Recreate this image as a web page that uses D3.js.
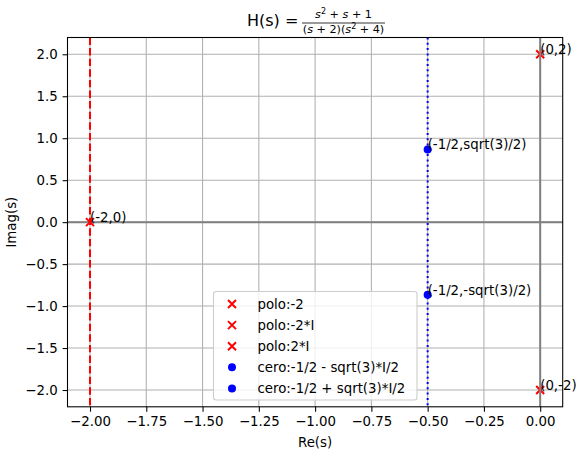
<!DOCTYPE html>
<html><head><meta charset="utf-8">
<script src="https://cdn.jsdelivr.net/npm/d3@7"></script>
<style>body{margin:0;background:#fff}svg{display:block}text{font-family:"DejaVu Sans",sans-serif;fill:#000}</style>
</head><body>
<script>
const poleRe = [-2, 0, 0];
const poleIm = [0, -2, 2];
const poleLegend = ["polo:-2", "polo:-2*I", "polo:2*I"];
const poleNotes = ["(-2,0)", "(0,-2)", "(0,2)"];
const zeroRe = [-0.5, -0.5];
const zeroIm = [-0.8660254, 0.8660254];
const zeroLegend = ["cero:-1/2 - sqrt(3)*I/2", "cero:-1/2 + sqrt(3)*I/2"];
const zeroNotes = ["(-1/2,-sqrt(3)/2)", "(-1/2,sqrt(3)/2)"];
const xTicks = [-2.0, -1.75, -1.5, -1.25, -1.0, -0.75, -0.5, -0.25, 0.0];
const yTicks = [-2.0, -1.5, -1.0, -0.5, 0.0, 0.5, 1.0, 1.5, 2.0];
const xDomain = [-2.1, 0.1];
const yDomain = [-2.2, 2.2];

const W = 581, H = 454;
const L = 67.5, R = 562.7, T = 37.5, B = 406.8;
const svg = d3.select("body").append("svg").attr("width", W).attr("height", H);
const x = d3.scaleLinear().domain(xDomain).range([L, R]);
const y = d3.scaleLinear().domain(yDomain).range([B, T]);
const fmt = s => s.replace("-", "\u2212");

// grid
const g = svg.append("g");
g.selectAll(".gx").data(xTicks).join("line").attr("x1", d => x(d)).attr("x2", d => x(d)).attr("y1", T).attr("y2", B).attr("stroke", "#b0b0b0").attr("stroke-width", 1.07);
g.selectAll(".gy").data(yTicks).join("line").attr("y1", d => y(d)).attr("y2", d => y(d)).attr("x1", L).attr("x2", R).attr("stroke", "#b0b0b0").attr("stroke-width", 1.07);

// horizontal axis line at 0
svg.append("line").attr("x1", L).attr("x2", R).attr("y1", y(0)).attr("y2", y(0)).attr("stroke", "#808080").attr("stroke-width", 2);

// markers
const mk = svg.append("g");
poleRe.forEach((re, i) => {
  const cx = x(re), cy = y(poleIm[i]);
  mk.append("path").attr("d", `M${cx-4},${cy-4}L${cx+4},${cy+4}M${cx-4},${cy+4}L${cx+4},${cy-4}`).attr("stroke", "red").attr("stroke-width", 2);
});
zeroRe.forEach((re, i) => {
  mk.append("circle").attr("cx", x(re)).attr("cy", y(zeroIm[i])).attr("r", 4).attr("fill", "blue");
});

// vertical lines
svg.append("line").attr("x1", x(-2)).attr("x2", x(-2)).attr("y1", T).attr("y2", B).attr("stroke", "red").attr("stroke-width", 2).attr("stroke-dasharray", "7.4,3.2");
svg.append("line").attr("x1", x(-0.5)).attr("x2", x(-0.5)).attr("y1", T).attr("y2", B).attr("stroke", "blue").attr("stroke-width", 2).attr("stroke-dasharray", "2,3.3");
svg.append("line").attr("x1", x(0)).attr("x2", x(0)).attr("y1", T).attr("y2", B).attr("stroke", "#808080").attr("stroke-width", 2);

// annotations
const an = svg.append("g").attr("font-size", "13.33px");
poleRe.forEach((re, i) => an.append("text").attr("x", x(re)).attr("y", y(poleIm[i])).text(poleNotes[i]));
zeroRe.forEach((re, i) => an.append("text").attr("x", x(re)).attr("y", y(zeroIm[i])).text(zeroNotes[i]));

// frame
svg.append("rect").attr("x", L).attr("y", T).attr("width", R - L).attr("height", B - T).attr("fill", "none").attr("stroke", "#000").attr("stroke-width", 1.07);

// axes
const xa = svg.append("g").attr("transform", `translate(0,${B})`)
  .call(d3.axisBottom(x).tickValues(xTicks).tickSize(4.9).tickPadding(4.9).tickFormat(d => fmt(d3.format(".2f")(d))));
const ya = svg.append("g").attr("transform", `translate(${L},0)`)
  .call(d3.axisLeft(y).tickValues(yTicks).tickSize(4.9).tickPadding(4.9).tickFormat(d => fmt(d3.format(".1f")(d))));
[xa, ya].forEach(a => {
  a.select(".domain").remove();
  a.selectAll("text").attr("font-size", "13.33px").attr("font-family", "DejaVu Sans").attr("fill", "#000");
  a.selectAll("line").attr("stroke", "#000").attr("stroke-width", 1.07);
});

// axis labels
svg.append("text").attr("x", (L + R) / 2).attr("y", 447).attr("text-anchor", "middle").attr("font-size", "13.33px").text("Re(s)");
svg.append("text").attr("transform", `translate(16,${(T + B) / 2}) rotate(-90)`).attr("text-anchor", "middle").attr("font-size", "13.33px").text("Imag(s)");

// title
const tt = svg.append("g");
tt.append("text").attr("x", 247).attr("y", 26).attr("font-size", "16px").text("H(s) = ");
const num = tt.append("text").attr("x", 343.5).attr("y", 17.5).attr("text-anchor", "middle").attr("font-size", "11.2px");
num.append("tspan").attr("font-style", "italic").text("s");
num.append("tspan").attr("font-size", "8px").attr("dy", -4).text("2");
num.append("tspan").attr("dy", 4).text(" + ");
num.append("tspan").attr("font-style", "italic").text("s");
num.append("tspan").text(" + 1");
tt.append("line").attr("x1", 302).attr("x2", 385).attr("y1", 23).attr("y2", 23).attr("stroke", "#000").attr("stroke-width", 0.8);
const den = tt.append("text").attr("x", 343.5).attr("y", 32.5).attr("text-anchor", "middle").attr("font-size", "11.2px");
den.append("tspan").text("(");
den.append("tspan").attr("font-style", "italic").text("s");
den.append("tspan").text(" + 2)(");
den.append("tspan").attr("font-style", "italic").text("s");
den.append("tspan").attr("font-size", "8px").attr("dy", -4).text("2");
den.append("tspan").attr("dy", 4).text(" + 4)");

// legend
const lg = svg.append("g");
lg.append("rect").attr("x", 213.5).attr("y", 291.5).attr("width", 203.5).attr("height", 108.5).attr("rx", 2.8)
  .attr("fill", "#fff").attr("fill-opacity", 0.8).attr("stroke", "#cccccc").attr("stroke-width", 1.07);
const items = poleLegend.map(t => ({t, type: "x"})).concat(zeroLegend.map(t => ({t, type: "o"})));
items.forEach((it, i) => {
  const cy = 304 + i * 21.1, cx = 232;
  if (it.type === "x") lg.append("path").attr("d", `M${cx-4},${cy-4}L${cx+4},${cy+4}M${cx-4},${cy+4}L${cx+4},${cy-4}`).attr("stroke", "red").attr("stroke-width", 2);
  else lg.append("circle").attr("cx", cx).attr("cy", cy).attr("r", 4).attr("fill", "blue");
  lg.append("text").attr("x", 257.5).attr("y", cy + 4.8).attr("font-size", "13.33px").text(it.t);
});
</script>
</body></html>
